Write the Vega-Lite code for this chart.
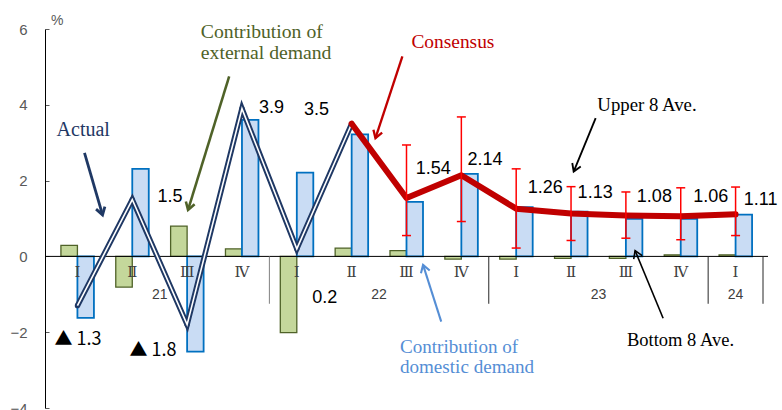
{
  "$schema": "https://vega.github.io/schema/vega-lite/v6.json",
  "width": 723,
  "height": 379,
  "autosize": {"type": "none"},
  "padding": {"left": 45, "top": 29, "right": 14, "bottom": 2},
  "config": {"view": {"stroke": null}, "font": "Liberation Sans"},
  "datasets": {
    "quarters": [
      {"i": 0, "q": "Ⅰ", "ext": 0.29, "dom": -1.62, "actual": -1.3, "cons": null, "hi": null, "lo": null},
      {"i": 1, "q": "Ⅱ", "ext": -0.81, "dom": 2.31, "actual": 1.5, "cons": null, "hi": null, "lo": null},
      {"i": 2, "q": "Ⅲ", "ext": 0.8, "dom": -2.51, "actual": -1.8, "cons": null, "hi": null, "lo": null},
      {"i": 3, "q": "Ⅳ", "ext": 0.2, "dom": 3.6, "actual": 3.9, "cons": null, "hi": null, "lo": null},
      {"i": 4, "q": "Ⅰ", "ext": -2.01, "dom": 2.21, "actual": 0.2, "cons": null, "hi": null, "lo": null},
      {"i": 5, "q": "Ⅱ", "ext": 0.22, "dom": 3.22, "actual": 3.5, "cons": 3.5, "hi": null, "lo": null},
      {"i": 6, "q": "Ⅲ", "ext": 0.15, "dom": 1.44, "actual": null, "cons": 1.54, "hi": 2.94, "lo": 0.55},
      {"i": 7, "q": "Ⅳ", "ext": -0.07, "dom": 2.18, "actual": null, "cons": 2.14, "hi": 3.68, "lo": 0.92},
      {"i": 8, "q": "Ⅰ", "ext": -0.07, "dom": 1.3, "actual": null, "cons": 1.26, "hi": 2.31, "lo": 0.22},
      {"i": 9, "q": "Ⅱ", "ext": -0.05, "dom": 1.18, "actual": null, "cons": 1.13, "hi": 1.84, "lo": 0.42},
      {"i": 10, "q": "Ⅲ", "ext": -0.05, "dom": 0.99, "actual": null, "cons": 1.08, "hi": 1.7, "lo": 0.48},
      {"i": 11, "q": "Ⅳ", "ext": 0.04, "dom": 0.99, "actual": null, "cons": 1.06, "hi": 1.81, "lo": 0.44},
      {"i": 12, "q": "Ⅰ", "ext": 0.04, "dom": 1.1, "actual": null, "cons": 1.11, "hi": 1.83, "lo": 0.55}
    ],
    "years": [
      {"x": 1.5, "yr": "21"},
      {"x": 5.5, "yr": "22"},
      {"x": 9.5, "yr": "23"},
      {"x": 12, "yr": "24"}
    ],
    "seps": [
      {"x": 3.5, "kind": "light"},
      {"x": 7.5, "kind": "dark"},
      {"x": 11.5, "kind": "dark"},
      {"x": 12.5, "kind": "dark"}
    ],
    "values": [
      {"x": -0.42, "y": -2.2, "t": "▲ 1.3", "neg": true},
      {"x": 0.95, "y": -2.49, "t": "▲ 1.8", "neg": true},
      {"x": 1.46, "y": 1.58, "t": "1.5", "neg": false},
      {"x": 3.31, "y": 3.91, "t": "3.9", "neg": false},
      {"x": 4.13, "y": 3.87, "t": "3.5", "neg": false},
      {"x": 4.28, "y": -1.1, "t": "0.2", "neg": false},
      {"x": 6.17, "y": 2.3, "t": "1.54", "neg": false},
      {"x": 7.11, "y": 2.55, "t": "2.14", "neg": false},
      {"x": 8.21, "y": 1.8, "t": "1.26", "neg": false},
      {"x": 9.12, "y": 1.67, "t": "1.13", "neg": false},
      {"x": 10.2, "y": 1.56, "t": "1.08", "neg": false},
      {"x": 11.23, "y": 1.56, "t": "1.06", "neg": false},
      {"x": 12.15, "y": 1.49, "t": "1.11", "neg": false}
    ],
    "notes": [
      {"x": -0.38, "y": 3.34, "t": "Actual", "kind": "actual"},
      {"x": 2.25, "y": 5.92, "t": "Contribution of", "kind": "external"},
      {"x": 2.25, "y": 5.37, "t": "external demand", "kind": "external"},
      {"x": 6.09, "y": 5.65, "t": "Consensus", "kind": "consensus"},
      {"x": 9.48, "y": 4.0, "t": "Upper 8 Ave.", "kind": "upper"},
      {"x": 10.02, "y": -2.2, "t": "Bottom 8 Ave.", "kind": "bottom"},
      {"x": 5.88, "y": -2.38, "t": "Contribution of", "kind": "domestic"},
      {"x": 5.88, "y": -2.91, "t": "domestic demand", "kind": "domestic"}
    ],
    "arrows": [
      {"x1": 0.129, "y1": 2.733, "x2": 0.458, "y2": 1.096, "angle": 163.6, "kind": "actual"},
      {"x1": 2.767, "y1": 4.748, "x2": 2.017, "y2": 1.228, "angle": 197.4, "kind": "external"},
      {"x1": 5.925, "y1": 5.276, "x2": 5.434, "y2": 3.121, "angle": 198.5, "kind": "consensus"},
      {"x1": 6.633, "y1": -1.722, "x2": 6.302, "y2": -0.224, "angle": 342, "kind": "domestic"},
      {"x1": 9.449, "y1": 3.649, "x2": 9.048, "y2": 2.239, "angle": 202.7, "kind": "upper"},
      {"x1": 10.679, "y1": -1.632, "x2": 10.168, "y2": 0.153, "angle": 337.2, "kind": "bottom"}
    ]
  },
  "layer": [
    {
      "data": {"name": "quarters"},
      "mark": {"type": "bar", "width": 16.5, "xOffset": -8.25, "fill": "#c4d79b", "stroke": "#4f6228", "strokeWidth": 1.3},
      "encoding": {
        "x": {"field": "i", "type": "quantitative", "scale": {"domain": [-0.5, 12.5], "nice": false, "zero": false}, "axis": null},
        "y": {"field": "ext", "type": "quantitative", "title": null, "scale": {"domain": [-4, 6], "nice": false, "zero": false},
          "axis": {"values": [-4, -2, 0, 2, 4, 6], "title": null,
            "labelFont": "Liberation Sans", "labelFontSize": 15, "labelColor": "#595959", "labelPadding": 22, "labelFlush": false,
            "tickSize": -4, "tickColor": "#595959", "domainColor": "#000000", "grid": false}},
        "y2": {"datum": 0}
      }
    },
    {
      "data": {"name": "quarters"},
      "mark": {"type": "bar", "width": 16.5, "xOffset": 8.25, "fill": "#c9dcf4", "stroke": "#0070c0", "strokeWidth": 1.8},
      "encoding": {
        "x": {"field": "i", "type": "quantitative"},
        "y": {"field": "dom", "type": "quantitative", "title": null},
        "y2": {"datum": 0}
      }
    },
    {
      "data": {"values": [{"z": 0}]},
      "mark": {"type": "rule", "color": "#000000", "strokeWidth": 1},
      "encoding": {"y": {"field": "z", "type": "quantitative", "title": null}}
    },
    {
      "data": {"values": [{"x": -0.5, "y": 6.22, "t": "%"}]},
      "mark": {"type": "text", "font": "Liberation Sans", "fontSize": 14, "color": "#595959", "align": "left", "baseline": "middle", "dx": 1},
      "encoding": {
        "x": {"field": "x", "type": "quantitative"},
        "y": {"field": "y", "type": "quantitative", "title": null},
        "text": {"field": "t"}
      }
    },
    {
      "data": {"name": "seps"},
      "mark": {"type": "rule", "strokeWidth": 1},
      "encoding": {
        "x": {"field": "x", "type": "quantitative"},
        "y": {"datum": 0, "type": "quantitative", "title": null},
        "y2": {"datum": -1.25},
        "color": {"field": "kind", "type": "nominal", "scale": {"domain": ["actual", "external", "consensus", "domestic", "upper", "bottom", "light", "dark"], "range": ["#1f3864", "#4f6228", "#c00000", "#558ed5", "#000000", "#000000", "#808080", "#262626"]}, "legend": null}
      }
    },
    {
      "data": {"name": "quarters"},
      "mark": {"type": "line", "color": "#1f3864", "strokeWidth": 5.5, "strokeJoin": "miter"},
      "encoding": {
        "x": {"field": "i", "type": "quantitative"},
        "y": {"field": "actual", "type": "quantitative", "title": null}
      }
    },
    {
      "data": {"name": "quarters"},
      "mark": {"type": "point", "filled": true, "color": "#1f3864", "size": 28, "opacity": 1},
      "encoding": {
        "x": {"field": "i", "type": "quantitative"},
        "y": {"field": "actual", "type": "quantitative", "title": null}
      }
    },
    {
      "data": {"name": "quarters"},
      "mark": {"type": "line", "color": "#ffffff", "strokeWidth": 1.6, "strokeJoin": "miter"},
      "encoding": {
        "x": {"field": "i", "type": "quantitative"},
        "y": {"field": "actual", "type": "quantitative", "title": null}
      }
    },
    {
      "data": {"name": "quarters"},
      "mark": {"type": "line", "color": "#c00000", "strokeWidth": 6, "strokeJoin": "round", "strokeCap": "round"},
      "encoding": {
        "x": {"field": "i", "type": "quantitative"},
        "y": {"field": "cons", "type": "quantitative", "title": null}
      }
    },
    {
      "data": {"name": "quarters"},
      "mark": {"type": "rule", "color": "#ff0000", "strokeWidth": 1.5},
      "encoding": {
        "x": {"field": "i", "type": "quantitative"},
        "y": {"field": "hi", "type": "quantitative", "title": null},
        "y2": {"field": "lo"}
      }
    },
    {
      "data": {"name": "quarters"},
      "mark": {"type": "tick", "orient": "horizontal", "size": 9, "thickness": 1.5, "color": "#ff0000", "opacity": 1},
      "encoding": {
        "x": {"field": "i", "type": "quantitative"},
        "y": {"field": "hi", "type": "quantitative", "title": null}
      }
    },
    {
      "data": {"name": "quarters"},
      "mark": {"type": "tick", "orient": "horizontal", "size": 9, "thickness": 1.5, "color": "#ff0000", "opacity": 1},
      "encoding": {
        "x": {"field": "i", "type": "quantitative"},
        "y": {"field": "lo", "type": "quantitative", "title": null}
      }
    },
    {
      "data": {"name": "quarters"},
      "mark": {"type": "text", "font": "Liberation Serif, DejaVu Serif, serif", "fontSize": 15, "color": "#404040", "baseline": "middle", "align": "center"},
      "encoding": {
        "x": {"field": "i", "type": "quantitative"},
        "y": {"datum": -0.4, "type": "quantitative", "title": null},
        "text": {"field": "q"}
      }
    },
    {
      "data": {"name": "years"},
      "mark": {"type": "text", "font": "Liberation Sans", "fontSize": 14, "color": "#404040", "baseline": "middle", "align": "center"},
      "encoding": {
        "x": {"field": "x", "type": "quantitative"},
        "y": {"datum": -1.02, "type": "quantitative", "title": null},
        "text": {"field": "yr"}
      }
    },
    {
      "data": {"name": "values"},
      "transform": [{"filter": "!datum.neg"}],
      "mark": {"type": "text", "font": "Liberation Sans", "fontSize": 18, "color": "#000000", "baseline": "middle", "align": "left"},
      "encoding": {
        "x": {"field": "x", "type": "quantitative"},
        "y": {"field": "y", "type": "quantitative", "title": null},
        "text": {"field": "t"}
      }
    },
    {
      "data": {"name": "values"},
      "transform": [{"filter": "datum.neg"}],
      "mark": {"type": "text", "font": "Noto Sans CJK JP", "fontSize": 18, "color": "#000000", "baseline": "middle", "align": "left"},
      "encoding": {
        "x": {"field": "x", "type": "quantitative"},
        "y": {"field": "y", "type": "quantitative", "title": null},
        "text": {"field": "t"}
      }
    },
    {
      "data": {"name": "arrows"},
      "mark": {"type": "rule"},
      "encoding": {
        "x": {"field": "x1", "type": "quantitative"},
        "y": {"field": "y1", "type": "quantitative", "title": null},
        "x2": {"field": "x2"},
        "y2": {"field": "y2"},
        "color": {"field": "kind", "type": "nominal", "scale": {"domain": ["actual", "external", "consensus", "domestic", "upper", "bottom", "light", "dark"], "range": ["#1f3864", "#4f6228", "#c00000", "#558ed5", "#000000", "#000000", "#808080", "#262626"]}, "legend": null},
        "strokeWidth": {"field": "kind", "type": "nominal", "scale": {"domain": ["actual", "external", "consensus", "domestic", "upper", "bottom"], "range": [2.8, 1.6, 1.6, 1.6, 1.6, 1.8]}, "legend": null}
      }
    },
    {
      "data": {"name": "arrows"},
      "mark": {"type": "point", "filled": false, "shape": "M-0.75,1.2L0,0L0.75,1.2", "size": 150, "opacity": 1},
      "encoding": {
        "x": {"field": "x2", "type": "quantitative"},
        "y": {"field": "y2", "type": "quantitative", "title": null},
        "angle": {"field": "angle", "type": "quantitative", "scale": null},
        "color": {"field": "kind", "type": "nominal", "scale": {"domain": ["actual", "external", "consensus", "domestic", "upper", "bottom", "light", "dark"], "range": ["#1f3864", "#4f6228", "#c00000", "#558ed5", "#000000", "#000000", "#808080", "#262626"]}, "legend": null},
        "strokeWidth": {"field": "kind", "type": "nominal", "scale": {"domain": ["actual", "external", "consensus", "domestic", "upper", "bottom"], "range": [2.8, 1.6, 1.6, 1.6, 1.6, 1.8]}, "legend": null}
      }
    },
    {
      "data": {"name": "notes"},
      "mark": {"type": "text", "font": "Liberation Serif", "baseline": "middle", "align": "left"},
      "encoding": {
        "x": {"field": "x", "type": "quantitative"},
        "y": {"field": "y", "type": "quantitative", "title": null},
        "text": {"field": "t"},
        "color": {"field": "kind", "type": "nominal", "scale": {"domain": ["actual", "external", "consensus", "domestic", "upper", "bottom", "light", "dark"], "range": ["#1f3864", "#4f6228", "#c00000", "#558ed5", "#000000", "#000000", "#808080", "#262626"]}, "legend": null},
        "size": {"field": "kind", "type": "nominal", "scale": {"domain": ["actual", "external", "consensus", "domestic", "upper", "bottom"], "range": [20, 18.5, 21, 18.5, 18.5, 18.5]}, "legend": null}
      }
    }
  ]
}
